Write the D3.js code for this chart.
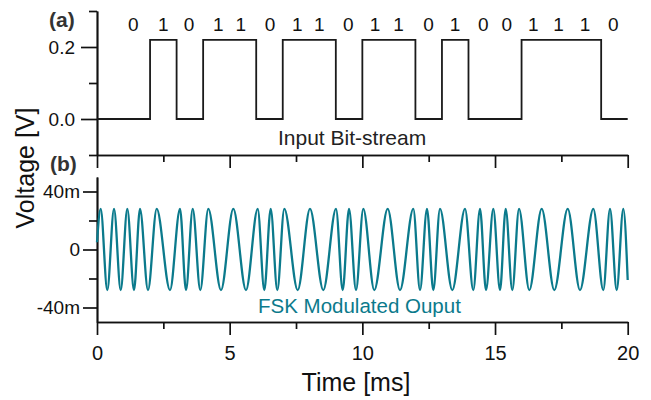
<!DOCTYPE html>
<html>
<head>
<meta charset="utf-8">
<script src="https://cdn.jsdelivr.net/npm/d3@7"></script>
<style>
body { margin: 0; background: #fff; }
text { font-family: "Liberation Sans", Arial, sans-serif; }
</style>
</head>
<body>
<svg id="chart" width="651" height="400"></svg>
<script>
"use strict";

// panel (a): input bit stream, one level per 1 ms bit
let bit_levels = [0, 0, 1, 0, 1, 1, 0, 1, 1, 0, 1, 1, 0, 1, 0, 0, 1, 1, 1, 0];
let bit_high = 0.22; // V
let bit_low = 0.0;

// bit labels printed above the trace, and where they sit (ms)
let bit_labels = ["0", "1", "0", "1", "1", "0", "1", "1", "0", "1", "1", "0", "1", "0", "0", "1", "1", "1", "0"];
let bit_label_times = [1.37, 2.5, 3.47, 4.57, 5.42, 6.52, 7.55, 8.38, 9.47, 10.48, 11.36, 12.49, 13.49, 14.56, 15.44, 16.44, 17.39, 18.39, 19.46];

let fsk_times = [0, 0.139, 0.388, 0.641, 0.893, 1.142, 1.394, 1.620, 1.922, 2.250, 2.751,
    3.128, 3.354, 3.607, 3.893, 4.194, 4.673, 5.137, 5.615, 6.056, 6.305,
    6.546, 6.795, 7.059, 7.564, 8.027, 8.528, 9.007, 9.259, 9.497, 9.761,
    10.036, 10.450, 10.955, 11.419, 11.920, 12.173, 12.436, 12.674, 12.926, 13.390,
    13.869, 14.181, 14.434, 14.660, 14.935, 15.188, 15.402, 15.651, 15.904, 16.292,
    16.759, 17.234, 17.739, 18.202, 18.704, 19.080, 19.333, 19.585, 19.834, 20.0];
let fsk_values = [5, 28, -28, 28, -28, 28, -28, 28, -28, 28, -28,
    28, -28, 28, -28, 28, -28, 28, -28, 28, -28,
    28, -28, 28, -28, 28, -28, 28, -28, 28, -28,
    28, -28, 28, -28, 28, -28, 28, -28, 28, -28,
    28, -28, 28, -28, 28, -28, 28, -28, 28, -28,
    28, -28, 28, -28, 28, -28, 28, -28, 28, -21];

let a_ticks_major = [0.0, 0.2];
let a_ticks_minor = [-0.1, 0.1, 0.3];
let b_ticks_major = [-40, 0, 40];
let b_ticks_minor = [-20, 20];
let x_ticks_major = [0, 5, 10, 15, 20];
let x_ticks_minor = [2.5, 7.5, 12.5, 17.5];

let teal = "#0b7a8c";
let ink = "#111";

let svg = d3.select("#chart");
svg.append("rect").attr("width", 651).attr("height", 400).attr("fill", "#fff");

let x = d3.scaleLinear().domain([0, 20]).range([97, 627.7]);
let y_a = d3.scaleLinear().domain([-0.1, 0.3]).range([155, 11]);
let y_b = d3.scaleLinear().domain([-50, 50]).range([322, 177]);

function style_axis(g, font_size) {
    g.select(".domain").attr("stroke", ink).attr("stroke-width", 1.7);
    g.selectAll(".tick line").attr("stroke", ink).attr("stroke-width", 1.7);
    g.selectAll("text").attr("fill", ink).attr("font-size", font_size)
        .attr("font-family", "'Liberation Sans', Arial, sans-serif");
}

function draw_axis(axis, tx, ty, font_size) {
    let g = svg.append("g").attr("transform", "translate(" + tx + "," + ty + ")").call(axis);
    style_axis(g, font_size);
    return g;
}

// panel (a) axes
draw_axis(d3.axisLeft(y_a).tickValues(a_ticks_major).tickSize(16).tickSizeOuter(0)
    .tickPadding(6).tickFormat(d3.format(".1f")), x(0), 0, 19);
draw_axis(d3.axisLeft(y_a).tickValues(a_ticks_minor).tickSize(8).tickSizeOuter(0)
    .tickFormat(""), x(0), 0, 19);
draw_axis(d3.axisBottom(x).tickValues(x_ticks_major).tickSize(13).tickSizeOuter(0)
    .tickFormat(""), 0, y_a(-0.1), 19);
draw_axis(d3.axisBottom(x).tickValues(x_ticks_minor).tickSize(7).tickSizeOuter(0)
    .tickFormat(""), 0, y_a(-0.1), 19);

// panel (b) axes
draw_axis(d3.axisLeft(y_b).tickValues(b_ticks_major).tickSize(14).tickSizeOuter(0)
    .tickPadding(3).tickFormat(d => d == 0 ? "0" : d + "m"), x(0), 0, 19);
draw_axis(d3.axisLeft(y_b).tickValues(b_ticks_minor).tickSize(8).tickSizeOuter(0)
    .tickFormat(""), x(0), 0, 19);
draw_axis(d3.axisBottom(x).tickValues(x_ticks_major).tickSize(13).tickSizeOuter(0)
    .tickPadding(11), 0, y_b(-50), 20);
draw_axis(d3.axisBottom(x).tickValues(x_ticks_minor).tickSize(7).tickSizeOuter(0)
    .tickFormat(""), 0, y_b(-50), 20);

// bit stream trace
let bit_points = bit_levels.map((b, i) => ({t: i, v: b ? bit_high : bit_low}));
bit_points.push({t: 20, v: bit_points[bit_points.length - 1].v});

let bit_line = d3.line().x(d => x(d.t)).y(d => y_a(d.v)).curve(d3.curveStepAfter);
svg.append("path").datum(bit_points).attr("d", bit_line)
    .attr("fill", "none").attr("stroke", "#1a1a1a").attr("stroke-width", 1.8);

svg.selectAll(".bit-label").data(bit_labels).enter().append("text")
    .attr("class", "bit-label")
    .attr("x", (d, i) => x(bit_label_times[i]))
    .attr("y", 31)
    .attr("text-anchor", "middle")
    .attr("font-size", 19)
    .attr("fill", ink)
    .text(d => d);

svg.append("text").attr("x", 278).attr("y", 145).attr("font-size", 21).attr("fill", "#222")
    .text("Input Bit-stream");

// FSK trace
let fsk_points = fsk_times.map((t, i) => ({t: t, v: fsk_values[i]}));
let fsk_line = d3.line().x(d => x(d.t)).y(d => y_b(d.v)).curve(d3.curveMonotoneX);
svg.append("path").datum(fsk_points).attr("d", fsk_line)
    .attr("fill", "none").attr("stroke", teal).attr("stroke-width", 2.3);

svg.append("text").attr("x", 258).attr("y", 313).attr("font-size", 20.5).attr("fill", teal)
    .text("FSK Modulated Ouput");

// panel letters and axis titles
svg.append("text").attr("x", 49).attr("y", 27).attr("font-size", 21).attr("font-weight", "bold")
    .attr("fill", "#333").text("(a)");
svg.append("text").attr("x", 50).attr("y", 171).attr("font-size", 21).attr("font-weight", "bold")
    .attr("fill", "#333").text("(b)");

svg.append("text").attr("x", 356).attr("y", 391).attr("text-anchor", "middle")
    .attr("font-size", 25).attr("fill", ink).text("Time [ms]");
svg.append("text").attr("transform", "translate(34,168) rotate(-90)").attr("text-anchor", "middle")
    .attr("font-size", 25).attr("fill", ink).text("Voltage [V]");
</script>
</body>
</html>
